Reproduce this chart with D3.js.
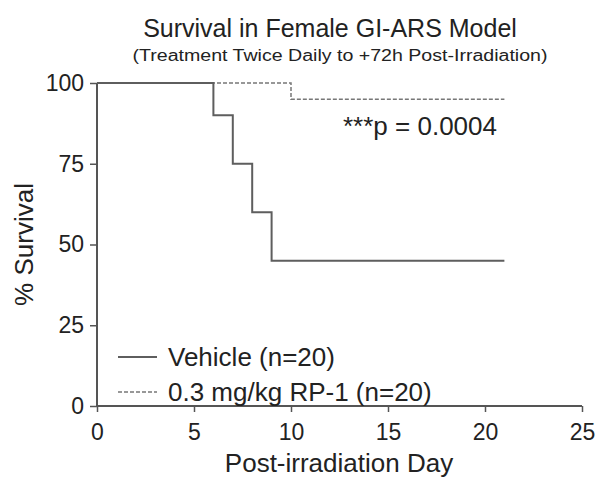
<!DOCTYPE html>
<html>
<head>
<meta charset="utf-8">
<script src="https://cdn.jsdelivr.net/npm/d3@7"></script>
<style>
  body { margin: 0; background: #fff; }
  text { font-family: Arial, "Liberation Sans", sans-serif; fill: #222; }
</style>
</head>
<body>
<div id="chart"></div>
<script>
// Kaplan-Meier step data (day, % survival)
const vehicleDays = [0, 6, 7, 8, 9, 21];
const vehicleSurvival = [100, 90, 75, 60, 45, 45];
const rp1Days = [0, 10, 21];
const rp1Survival = [100, 95, 95];
const xTicks = [0, 5, 10, 15, 20, 25];
const yTicks = [0, 25, 50, 75, 100];
const legendLabels = ["Vehicle (n=20)", "0.3 mg/kg RP-1 (n=20)"];

const width = 599, height = 480;
const margin = { top: 83, right: 17, bottom: 74, left: 97 };

const svg = d3.select("#chart").append("svg")
  .attr("width", width).attr("height", height);

const x = d3.scaleLinear().domain([0, 25]).range([margin.left, width - margin.right]);
const y = d3.scaleLinear().domain([0, 100]).range([height - margin.bottom, margin.top]);

// axes
const xAxis = d3.axisBottom(x).tickValues(xTicks).tickSize(6).tickPadding(12);
const yAxis = d3.axisLeft(y).tickValues(yTicks).tickSize(7).tickPadding(6);

const gx = svg.append("g")
  .attr("transform", `translate(0, ${y(0)})`)
  .call(xAxis);
const gy = svg.append("g")
  .attr("transform", `translate(${x(0)}, 0)`)
  .call(yAxis);

[gx, gy].forEach(g => {
  g.select(".domain").attr("stroke", "#555").attr("stroke-width", 2);
  g.selectAll(".tick line").attr("stroke", "#555").attr("stroke-width", 1.5);
  g.selectAll(".tick text").attr("font-size", 23).attr("fill", "#222")
    .style("font-family", "Arial, 'Liberation Sans', sans-serif");
});
gx.select(".domain").attr("d", `M${x(0)},0H${x(25)}`);
gy.select(".domain").attr("d", `M0,${y(0)}V${y(100)}`);

// survival steps
const line = d3.line().x(d => x(d[0])).y(d => y(d[1])).curve(d3.curveStepAfter);

svg.append("path")
  .datum(rp1Days.map((d, i) => [d, rp1Survival[i]]))
  .attr("fill", "none")
  .attr("stroke", "#777")
  .attr("stroke-width", 1.5)
  .attr("stroke-dasharray", "4,2")
  .attr("d", line);

svg.append("path")
  .datum(vehicleDays.map((d, i) => [d, vehicleSurvival[i]]))
  .attr("fill", "none")
  .attr("stroke", "#5e5e5e")
  .attr("stroke-width", 2)
  .attr("d", line);

// titles
svg.append("text")
  .attr("x", 330).attr("y", 37)
  .attr("text-anchor", "middle")
  .attr("font-size", 25)
  .text("Survival in Female GI-ARS Model");

svg.append("text")
  .attr("x", 340).attr("y", 61)
  .attr("text-anchor", "middle")
  .attr("font-size", 16)
  .attr("textLength", 415)
  .attr("lengthAdjust", "spacingAndGlyphs")
  .text("(Treatment Twice Daily to +72h Post-Irradiation)");

svg.append("text")
  .attr("x", 343).attr("y", 135)
  .attr("font-size", 26)
  .text("***p = 0.0004");

// axis labels
svg.append("text")
  .attr("transform", `translate(33, ${(y(0) + y(100)) / 2}) rotate(-90)`)
  .attr("text-anchor", "middle")
  .attr("font-size", 26)
  .text("% Survival");

svg.append("text")
  .attr("x", 339).attr("y", 472)
  .attr("text-anchor", "middle")
  .attr("font-size", 26)
  .text("Post-irradiation Day");

// legend
const legend = svg.append("g");
legendLabels.forEach((label, i) => {
  const ly = 357 + i * 35;
  legend.append("line")
    .attr("x1", 118).attr("x2", 157)
    .attr("y1", ly).attr("y2", ly)
    .attr("stroke", i === 0 ? "#5e5e5e" : "#777")
    .attr("stroke-width", i === 0 ? 2 : 1.5)
    .attr("stroke-dasharray", i === 0 ? null : "4,2");
  legend.append("text")
    .attr("x", 168).attr("y", ly + 9)
    .attr("font-size", 26)
    .text(label);
});
</script>
</body>
</html>
